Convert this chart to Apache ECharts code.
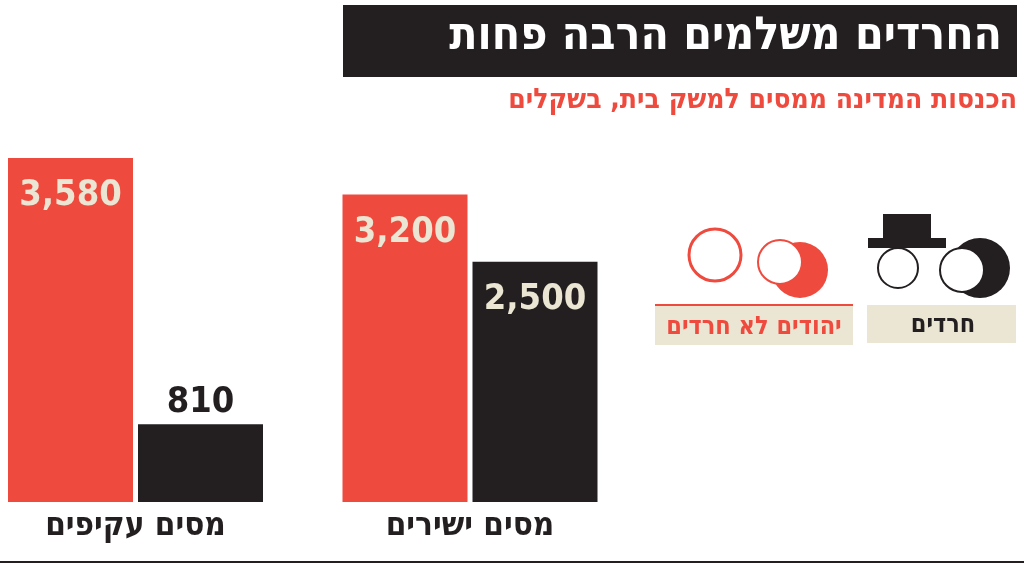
<!DOCTYPE html>
<html><head><meta charset="utf-8">
<script src="https://cdn.jsdelivr.net/npm/echarts@6/dist/echarts.min.js"></script>
<style>html,body{margin:0;background:#fff}#main{width:1024px;height:568px}</style>
</head><body><div id="main"></div>
<script>
// נתונים
const groups = ["מסים עקיפים", "מסים ישירים"];
const haredim = [810, 2500];
const nonHaredim = [3580, 3200];
const seriesNames = ["יהודים לא חרדים", "חרדים"];

const RED = "#ef4a3e", BLACK = "#231f20", BEIGE = "#ebe5d3";
const FONT = "DejaVu Sans Condensed";
const chart = echarts.init(document.getElementById("main"));

const grids = [{ left: 8, width: 255, top: 158, bottom: 66 }, { left: 342, width: 256, top: 158, bottom: 66 }];
const xAxes = [], yAxes = [], series = [];
grids.forEach((g, i) => {
	xAxes.push({ gridIndex: i, type: "category", data: [groups[i]], axisLine: { show: false }, axisTick: { show: false },
		axisLabel: { fontFamily: FONT, fontWeight: "bold", fontSize: 33, color: BLACK, margin: 8 } });
	yAxes.push({ gridIndex: i, type: "value", min: 0, max: 3580, show: false });
	series.push({ type: "bar", name: seriesNames[0], xAxisIndex: i, yAxisIndex: i, data: [nonHaredim[i]], barWidth: 125, barGap: "4%",
		itemStyle: { color: RED },
		label: { show: true, position: "insideTop", distance: 20, color: BEIGE, fontFamily: FONT, fontWeight: "bold", fontSize: 36,
			formatter: (p) => p.value.toLocaleString("en-US") } });
	const small = haredim[i] < 1000;
	series.push({ type: "bar", name: seriesNames[1], xAxisIndex: i, yAxisIndex: i, data: [haredim[i]], barWidth: 125, barGap: "4%",
		itemStyle: { color: BLACK },
		label: { show: true, position: small ? "top" : "insideTop", distance: small ? 4 : 20, color: small ? BLACK : BEIGE,
			fontFamily: FONT, fontWeight: "bold", fontSize: 36, formatter: (p) => p.value.toLocaleString("en-US") } });
});

chart.setOption({
	animation: false,
	grid: grids, xAxis: xAxes, yAxis: yAxes, series: series,
	graphic: [
		{ type: "rect", shape: { x: 343, y: 5, width: 674, height: 72 }, style: { fill: BLACK } },
		{ type: "text", right: 22, top: 14, style: { text: "החרדים משלמים הרבה פחות", fill: "#fff", font: "bold 46px " + FONT } },
		{ type: "text", right: 7, top: 87, style: { text: "הכנסות המדינה ממסים למשק בית, בשקלים", fill: RED, font: "bold 28px " + FONT } },
		// מקרא
		{ type: "rect", shape: { x: 867, y: 305, width: 149, height: 38 }, style: { fill: BEIGE } },
		{ type: "text", x: 943, y: 325, style: { text: seriesNames[1], fill: BLACK, font: "bold 25px " + FONT, align: "center", verticalAlign: "middle" } },
		{ type: "rect", shape: { x: 655, y: 305, width: 198, height: 40 }, style: { fill: BEIGE } },
		{ type: "line", shape: { x1: 655, y1: 305, x2: 853, y2: 305 }, style: { stroke: RED, lineWidth: 2 } },
		{ type: "text", x: 754, y: 327, style: { text: seriesNames[0], fill: RED, font: "bold 25px " + FONT, align: "center", verticalAlign: "middle" } },
		// דמויות פשוטות
		{ type: "circle", shape: { cx: 980, cy: 268, r: 30 }, style: { fill: BLACK } },
		{ type: "circle", shape: { cx: 962, cy: 270, r: 22 }, style: { fill: "#fff", stroke: BLACK, lineWidth: 2 } },
		{ type: "rect", shape: { x: 868, y: 238, width: 78, height: 10 }, style: { fill: BLACK } },
		{ type: "rect", shape: { x: 883, y: 214, width: 48, height: 28 }, style: { fill: BLACK } },
		{ type: "circle", shape: { cx: 898, cy: 268, r: 20 }, style: { fill: "#fff", stroke: BLACK, lineWidth: 2 } },
		{ type: "circle", shape: { cx: 800, cy: 270, r: 28 }, style: { fill: RED } },
		{ type: "circle", shape: { cx: 780, cy: 262, r: 22 }, style: { fill: "#fff", stroke: RED, lineWidth: 2 } },
		{ type: "circle", shape: { cx: 715, cy: 255, r: 26 }, style: { fill: "#fff", stroke: RED, lineWidth: 3 } },
		// קו תחתון
		{ type: "line", shape: { x1: 0, y1: 562, x2: 1024, y2: 562 }, style: { stroke: BLACK, lineWidth: 2 } }
	]
});
</script>
</body></html>
